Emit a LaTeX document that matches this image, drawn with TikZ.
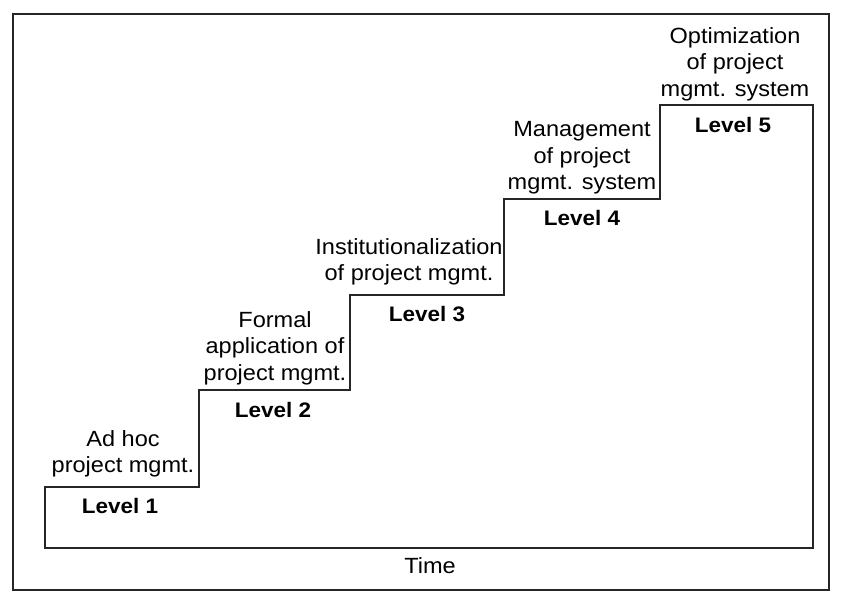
\documentclass[tikz,border=0pt]{standalone}
\usepackage{fontspec}
\setmainfont{Liberation Sans}[FakeStretch=1.07]
\begin{document}
\begin{tikzpicture}[x=1pt,y=-1pt,
  stair/.style={line width=2.4pt,line join=miter,draw=black!85},
  frame/.style={line width=2pt,draw=black!85},
  desc/.style={align=center,inner sep=0pt,font=\fontsize{22}{26.5}\selectfont},
  lvl/.style={inner sep=0pt,font=\fontsize{21}{24}\selectfont\bfseries},
  axis/.style={inner sep=0pt,font=\fontsize{22}{24}\selectfont}]
  \useasboundingbox (0,0) rectangle (842,592);
  % outer frame
  \draw[frame] (13,14) rectangle (829,590);
  % staircase corners
  \coordinate (b0) at (45,548);
  \coordinate (s1) at (45,487);
  \coordinate (s2) at (199,487);
  \coordinate (s3) at (199,390);
  \coordinate (s4) at (350,390);
  \coordinate (s5) at (350,295);
  \coordinate (s6) at (504,295);
  \coordinate (s7) at (504,199);
  \coordinate (s8) at (660,199);
  \coordinate (s9) at (660,105);
  \coordinate (s10) at (813,105);
  \coordinate (b1) at (813,548);
  \draw[stair] (b0) -- (s1) -- (s2) -- (s3) -- (s4) -- (s5) -- (s6) -- (s7)
    -- (s8) -- (s9) -- (s10) -- (b1) -- cycle;
  % step descriptions
  \node[desc] (d1) at (123,454) {Ad hoc\\project mgmt.};
  \node[desc] (d2) at (275,348) {Formal\\application of\\project mgmt.};
  \node[desc] (d3) at (409,262) {Institutionalization\\of project mgmt.};
  \node[desc] (d4) at (582,158) {Management\\of project\\mgmt. system};
  \node[desc] (d5) at (735,64) {Optimization\\of project\\mgmt. system};
  % level labels
  \node[lvl] (l1) at (120,506) {Level 1};
  \node[lvl] (l2) at (273,410) {Level 2};
  \node[lvl] (l3) at (427,314) {Level 3};
  \node[lvl] (l4) at (582,218) {Level 4};
  \node[lvl] (l5) at (733,125) {Level 5};
  % horizontal axis caption
  \node[axis] (t) at (430,566) {Time};
\end{tikzpicture}
\end{document}
